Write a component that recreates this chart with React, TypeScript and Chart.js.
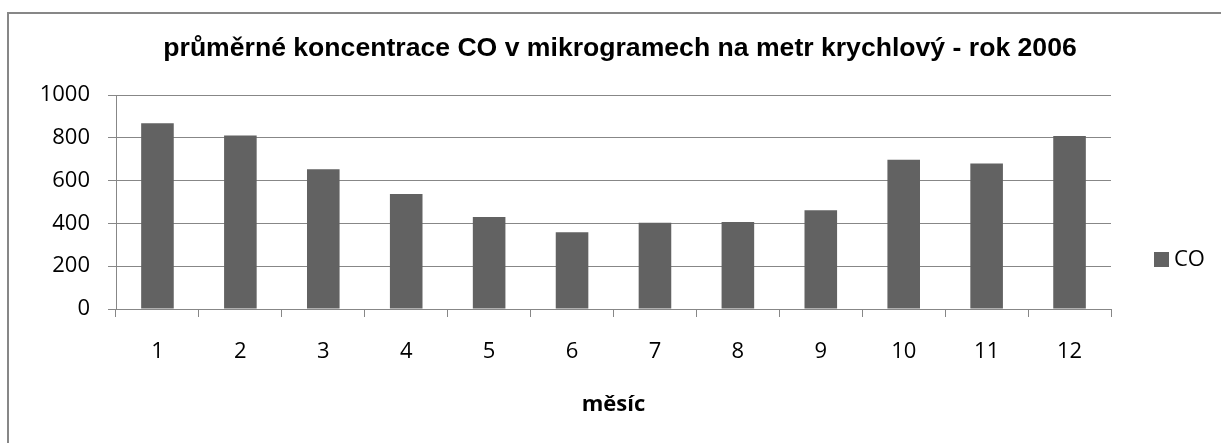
import React, { useEffect, useRef } from "react";
import { Chart, registerables } from "chart.js";

Chart.register(...registerables);

const MONTHS = ["1", "2", "3", "4", "5", "6", "7", "8", "9", "10", "11", "12"];
const CO_VALUES = [868, 811, 653, 537, 430, 359, 403, 406, 462, 697, 680, 808];
const SERIES_LABEL = "CO";
const TITLE = "průměrné koncentrace CO v mikrogramech na metr krychlový - rok 2006";
const X_TITLE = "měsíc";
const Y_MIN = 0;
const Y_MAX = 1000;
const Y_STEP = 200;

const GRID = "#878787";
const BAR = "#626262";
const LABEL_FONT = "Open Sans";
const TITLE_FONT = "Liberation Sans";

const overlayPlugin = {
  id: "overlay",
  afterDraw(chart: any) {
    const ctx = chart.ctx;
    ctx.save();
    ctx.fillStyle = "#000";
    ctx.font = `bold 26.6px "${TITLE_FONT}"`;
    ctx.textAlign = "center";
    ctx.textBaseline = "alphabetic";
    ctx.fillText(TITLE, 620, 56);

    const ds = chart.data.datasets[0];
    ctx.fillStyle = ds.backgroundColor;
    ctx.fillRect(1154, 252, 15, 15);
    ctx.fillStyle = "#000";
    ctx.font = `22px "${LABEL_FONT}"`;
    ctx.textAlign = "left";
    ctx.textBaseline = "middle";
    ctx.fillText(ds.label, 1174, 260);
    ctx.restore();
  },
};

export default function App() {
  const canvasRef = useRef<HTMLCanvasElement | null>(null);

  useEffect(() => {
    document.body.style.margin = "0";
    let chart: Chart | null = null;
    let cancelled = false;
    const make = () => {
      if (cancelled || !canvasRef.current) return;
      chart = new Chart(canvasRef.current, {
        type: "bar",
        data: {
          labels: MONTHS,
          datasets: [
            {
              label: SERIES_LABEL,
              data: CO_VALUES,
              backgroundColor: BAR,
              categoryPercentage: 1,
              barPercentage: 0.393,
            },
          ],
        },
        options: {
          responsive: false,
          animation: false,
          devicePixelRatio: 1,
          layout: { padding: { top: 95, left: 0, right: 110, bottom: 0 } },
          plugins: {
            legend: { display: false },
            title: { display: false },
            tooltip: { enabled: false },
          },
          scales: {
            x: {
              grid: {
                offset: true,
                drawOnChartArea: false,
                drawTicks: true,
                tickLength: 8,
                color: GRID,
                lineWidth: 1,
              },
              border: { display: true, color: GRID, width: 1 },
              ticks: {
                color: "#000",
                font: { family: LABEL_FONT, size: 22 },
                padding: 22,
                maxRotation: 0,
              },
              title: {
                display: true,
                text: X_TITLE,
                color: "#000",
                font: { family: LABEL_FONT, size: 22, weight: "bold" },
                padding: { top: 0, bottom: 25 },
              },
              afterFit: (s: any) => {
                s.height = 134;
              },
            },
            y: {
              min: Y_MIN,
              max: Y_MAX,
              grid: {
                color: GRID,
                lineWidth: 1,
                drawTicks: true,
                tickLength: 8,
              },
              border: { display: true, color: GRID, width: 1 },
              ticks: {
                stepSize: Y_STEP,
                color: "#000",
                font: { family: LABEL_FONT, size: 22 },
                padding: 18,
                callback: (v: any) => String(v),
              },
              afterFit: (s: any) => {
                s.width = 116;
              },
            },
          },
        },
        plugins: [overlayPlugin],
      });
    };
    const fonts: any = (document as any).fonts;
    if (fonts && fonts.load) {
      Promise.all([
        fonts.load(`22px "${LABEL_FONT}"`),
        fonts.load(`bold 22px "${LABEL_FONT}"`),
        fonts.load(`bold 26px "${TITLE_FONT}"`),
      ])
        .catch(() => {})
        .then(make);
    } else {
      make();
    }
    return () => {
      cancelled = true;
      if (chart) chart.destroy();
    };
  }, []);

  return (
    <div
      style={{
        position: "relative",
        width: 1221,
        height: 443,
        overflow: "hidden",
        background: "#fff",
      }}
    >
      <div
        style={{
          position: "absolute",
          left: 7,
          top: 12,
          width: 1400,
          height: 600,
          border: `2px solid ${GRID}`,
          boxSizing: "border-box",
        }}
      />
      <canvas
        ref={canvasRef}
        width={1221}
        height={443}
        style={{ position: "absolute", left: 0, top: 0, width: 1221, height: 443 }}
      />
    </div>
  );
}
